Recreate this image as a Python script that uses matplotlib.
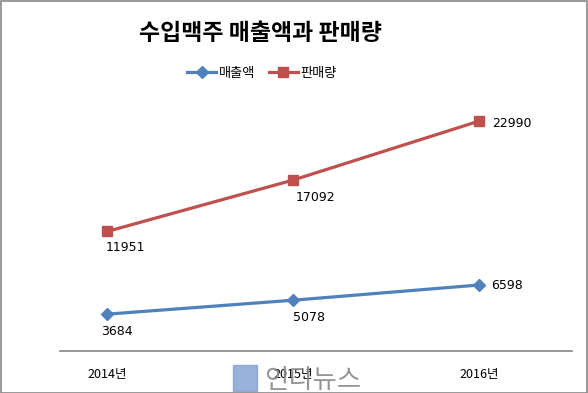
import matplotlib
matplotlib.use("Agg")
import matplotlib.pyplot as plt
from matplotlib.patches import Rectangle

plt.rcParams['font.family'] = ['Noto Sans CJK KR', 'DejaVu Sans']

categories = ['2014년', '2015년', '2016년']
sales = [3684, 5078, 6598]
volume = [11951, 17092, 22990]
series_names = ['매출액', '판매량']
title = '수입맥주 매출액과 판매량'

blue = '#4F81BD'
red = '#C0504D'

fig = plt.figure(figsize=(5.88, 3.93), dpi=100)
W, H = 588, 393
ax = fig.add_axes([60 / W, (H - 351) / H, (572 - 60) / W, (351 - 101) / H])

x = list(range(len(categories)))
l1, = ax.plot(x, sales, color=blue, lw=2.3, marker='D', ms=6, label=series_names[0])
l2, = ax.plot(x, volume, color=red, lw=2.3, marker='s', ms=7, label=series_names[1])

ax.set_ylim(0, 25000)
ax.set_xlim(-0.253, 2.5)
ax.set_yticks([])
ax.set_xticks(x)
ax.set_xticklabels(categories, fontsize=9)
ax.tick_params(axis='x', length=0, pad=12)
for s in ['top', 'right', 'left']:
    ax.spines[s].set_visible(False)
ax.spines['bottom'].set_color('#868686')
ax.spines['bottom'].set_linewidth(1.2)

# data labels
sales_off = [(10, -17), (16, -17), (12, 0)]
vol_off = [(18, -16), (22, -17), (13, -2)]
for i, v in enumerate(sales):
    dx, dy = sales_off[i]
    ha = 'left' if i == 2 else 'center'
    ax.annotate(str(v), (x[i], v), xytext=(dx, dy), textcoords='offset pixels',
                ha=ha, va='center', fontsize=9, family=['DejaVu Sans'])
for i, v in enumerate(volume):
    dx, dy = vol_off[i]
    ha = 'left' if i == 2 else 'center'
    ax.annotate(str(v), (x[i], v), xytext=(dx, dy), textcoords='offset pixels',
                ha=ha, va='center', fontsize=9, family=['DejaVu Sans'])

fig.text(260 / W, 1 - 34 / H, title, ha='center', va='center', fontsize=16.5, fontweight='bold')
fig.legend(handles=[l1, l2], loc='center', bbox_to_anchor=(262 / W, 1 - 73 / H), ncol=2,
           frameon=False, fontsize=9.5, handlelength=2.2, columnspacing=1.0, handletextpad=0.2)

# watermark (logo)
fig.patches.append(Rectangle((233 / W, 2 / H), 24 / W, 26 / H, transform=fig.transFigure,
                             color='#7F9FD0', alpha=0.8))
fig.text(264 / W, 1 - 380 / H, '인디뉴스', ha='left', va='center', fontsize=19,
         color='#8a8a8a', alpha=0.9)

# figure border
fig.patches.append(Rectangle((0.5 / W, 0.5 / H), (W - 1.5) / W, (H - 1.5) / H,
                             transform=fig.transFigure, fill=False, edgecolor='#888888', lw=1.2))

fig.savefig('out.png', dpi=100)
